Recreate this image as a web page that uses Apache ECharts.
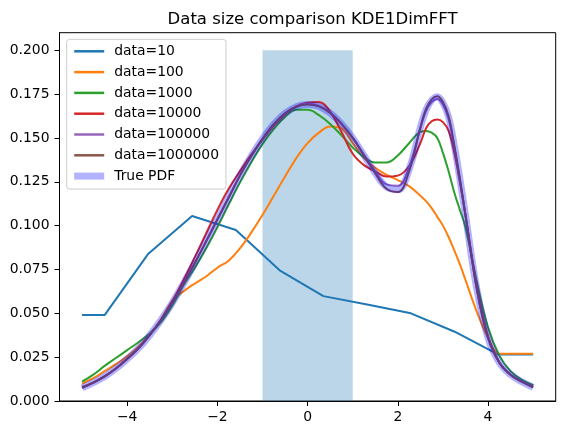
<!DOCTYPE html>
<html>
<head>
<meta charset="utf-8">
<script src="https://cdn.jsdelivr.net/npm/echarts@6/dist/echarts.min.js"></script>
<style>
  html, body { margin: 0; padding: 0; background: #fff; }
  #chart { width: 565px; height: 435px; }
</style>
</head>
<body>
<div id="chart"></div>
<script>
// x grid shared by the smooth curves (finer around the second bump)
var xs = [-5, -4.75, -4.5, -4.25, -4, -3.75, -3.5, -3.25, -3, -2.75, -2.5, -2.25, -2, -1.75, -1.5, -1.25, -1, -0.75, -0.5, -0.25,
  0, 0.25, 0.5, 0.75, 1, 1.25, 1.5, 1.75, 2, 2.25,
  2.5, 2.625, 2.75, 2.875, 3, 3.125, 3.25, 3.375, 3.5,
  3.75, 4, 4.25, 4.5, 4.75, 5];

// data=10 is a coarse polyline
var blueX = [-5, -4.5, -3.53, -2.56, -1.59, -0.62, 0.35, 1.32, 2.29, 3.26, 4.23, 5];
var blueY = [0.049, 0.049, 0.084, 0.1055, 0.0975, 0.0745, 0.0598, 0.055, 0.05, 0.0395, 0.0265, 0.0265];

var orangeY = [0.0100, 0.0130, 0.0170, 0.0210, 0.0255, 0.0310, 0.0380, 0.0465, 0.0570, 0.0625, 0.0670, 0.0710, 0.0760, 0.0800, 0.0870, 0.0960, 0.1060, 0.1170, 0.1280, 0.1385,
  0.1470, 0.1530, 0.1565, 0.1555, 0.1470, 0.1385, 0.1330, 0.1290, 0.1260, 0.1225,
  0.1170, 0.1140, 0.1100, 0.1050, 0.1000, 0.0935, 0.0860, 0.0780, 0.0690,
  0.0510, 0.0360, 0.0270, 0.0270, 0.0270, 0.0270];
var greenY = [0.0110, 0.0150, 0.0200, 0.0245, 0.0290, 0.0335, 0.0385, 0.0450, 0.0545, 0.0660, 0.0760, 0.0870, 0.0990, 0.1120, 0.1245, 0.1360, 0.1465, 0.1550, 0.1620, 0.1660,
  0.1660, 0.1630, 0.1580, 0.1515, 0.1445, 0.1390, 0.1360, 0.1360, 0.1400, 0.1470,
  0.1535, 0.1540, 0.1530, 0.1500, 0.1415, 0.1310, 0.1190, 0.1090, 0.0990,
  0.0680, 0.0420, 0.0260, 0.0170, 0.0120, 0.0090];
var redY = [0.0080, 0.0105, 0.0140, 0.0185, 0.0240, 0.0300, 0.0375, 0.0465, 0.0570, 0.0690, 0.0820, 0.0955, 0.1090, 0.1210, 0.1310, 0.1405, 0.1490, 0.1570, 0.1635, 0.1680,
  0.1700, 0.1705, 0.1650, 0.1535, 0.1410, 0.1345, 0.1310, 0.1280, 0.1285, 0.1340,
  0.1470, 0.1555, 0.1595, 0.1605, 0.1590, 0.1540, 0.1420, 0.1250, 0.1060,
  0.0660, 0.0370, 0.0220, 0.0150, 0.0110, 0.0080];
var purpleY = [0.0075, 0.0105, 0.0140, 0.0185, 0.0240, 0.0300, 0.0375, 0.0462, 0.0560, 0.0670, 0.0787, 0.0910, 0.1035, 0.1160, 0.1285, 0.1395, 0.1495, 0.1578, 0.1640, 0.1680,
  0.1695, 0.1683, 0.1645, 0.1582, 0.1502, 0.1405, 0.1310, 0.1235, 0.1228, 0.1335,
  0.1555, 0.1655, 0.1705, 0.1722, 0.1690, 0.1610, 0.1450, 0.1260, 0.1060,
  0.0640, 0.0360, 0.0220, 0.0150, 0.0110, 0.0078];
var brownY = [0.0075, 0.0105, 0.0140, 0.0185, 0.0240, 0.0300, 0.0375, 0.0462, 0.0560, 0.0670, 0.0787, 0.0910, 0.1035, 0.1160, 0.1285, 0.1395, 0.1495, 0.1578, 0.1640, 0.1678,
  0.1690, 0.1680, 0.1642, 0.1580, 0.1500, 0.1400, 0.1298, 0.1210, 0.1192, 0.1310,
  0.1560, 0.1665, 0.1720, 0.1738, 0.1705, 0.1625, 0.1460, 0.1270, 0.1060,
  0.0640, 0.0360, 0.0220, 0.0150, 0.0110, 0.0078];
var truePdfY = [0.0075, 0.0105, 0.0140, 0.0185, 0.0240, 0.0300, 0.0375, 0.0462, 0.0560, 0.0670, 0.0787, 0.0910, 0.1035, 0.1160, 0.1285, 0.1395, 0.1495, 0.1578, 0.1640, 0.1678,
  0.1690, 0.1680, 0.1642, 0.1580, 0.1500, 0.1400, 0.1300, 0.1220, 0.1205, 0.1320,
  0.1560, 0.1660, 0.1715, 0.1735, 0.1700, 0.1620, 0.1460, 0.1270, 0.1060,
  0.0640, 0.0360, 0.0220, 0.0150, 0.0110, 0.0078];

// uniform region shaded behind the curves
var boxX = [-1, 1];
var boxTop = 0.2;

var xTicks = [-4, -2, 0, 2, 4];
var yTicks = [0, 0.025, 0.05, 0.075, 0.1, 0.125, 0.15, 0.175, 0.2];

var names = ["data=10", "data=100", "data=1000", "data=10000", "data=100000", "data=1000000", "True PDF"];

function pairs(xv, yv) {
  return xv.map(function (x, i) { return [x, yv[i]]; });
}
function minus(v) {
  return v < 0 ? "\u2212" + Math.abs(v) : String(v);
}

var font = "DejaVu Sans";
var myChart = echarts.init(document.getElementById("chart"), null, { renderer: "canvas" });

var curve = function (name, color, yv) {
  return {
    name: name,
    type: "line",
    data: pairs(xs, yv),
    showSymbol: false,
    symbol: "none",
    smooth: 0.4,
    lineStyle: { color: color, width: 2 },
    itemStyle: { color: color },
  };
};

var legendData = names.map(function (n, i) {
  return i === 6 ? { name: n, lineStyle: { width: 7 } } : { name: n, lineStyle: { width: 2.5 } };
});

var option = {
  animation: false,
  title: {
    text: "Data size comparison KDE1DimFFT",
    left: 307.6,
    top: 6,
    textAlign: "center",
    textStyle: { fontFamily: font, fontSize: 16.5, fontWeight: "normal", color: "#000" },
  },
  legend: {
    orient: "vertical",
    left: 66.7,
    top: 39.3,
    padding: [5, 7, 6, 4],
    itemWidth: 30,
    itemHeight: 14,
    itemGap: 6.8,
    backgroundColor: "rgba(255,255,255,0.8)",
    borderColor: "#cccccc",
    borderWidth: 1,
    borderRadius: 3,
    itemStyle: { opacity: 0 },
    data: legendData,
    textStyle: { fontFamily: font, fontSize: 13.9, color: "#000", padding: [0, 0, 0, 5] },
  },
  grid: {
    left: 59.5,
    right: 9.3,
    top: 32.7,
    bottom: 34,
    show: true,
    borderColor: "#000",
    borderWidth: 1,
    backgroundColor: "transparent",
  },
  xAxis: {
    type: "value",
    min: -5.5,
    max: 5.5,
    splitLine: { show: false },
    axisLine: { show: true, onZero: false, lineStyle: { color: "#000", width: 1 } },
    axisTick: { show: true, length: 5, customValues: xTicks, lineStyle: { color: "#000" } },
    axisLabel: {
      customValues: xTicks,
      margin: 9,
      color: "#000",
      fontFamily: font,
      fontSize: 13.9,
      formatter: minus,
    },
  },
  yAxis: {
    type: "value",
    min: 0,
    max: 0.21,
    splitLine: { show: false },
    axisLine: { show: true, onZero: false, lineStyle: { color: "#000", width: 1 } },
    axisTick: { show: true, length: 5, customValues: yTicks, lineStyle: { color: "#000" } },
    axisLabel: {
      customValues: yTicks,
      margin: 10,
      color: "#000",
      fontFamily: font,
      fontSize: 13.9,
      formatter: function (v) { return v.toFixed(3); },
    },
  },
  series: [
    {
      name: "box",
      type: "line",
      data: pairs(boxX, [boxTop, boxTop]),
      showSymbol: false,
      symbol: "none",
      lineStyle: { width: 0, opacity: 0 },
      areaStyle: { color: "rgba(31,119,180,0.3)", opacity: 1, origin: "start" },
      silent: true,
    },
    {
      name: names[0],
      type: "line",
      data: pairs(blueX, blueY),
      showSymbol: false,
      symbol: "none",
      lineStyle: { color: "#1f77b4", width: 2 },
      itemStyle: { color: "#1f77b4" },
    },
    curve(names[1], "#ff7f0e", orangeY),
    curve(names[2], "#2ca02c", greenY),
    curve(names[3], "#d62728", redY),
    curve(names[4], "#9467bd", purpleY),
    curve(names[5], "#8c564b", brownY),
    {
      name: names[6],
      type: "line",
      data: pairs(xs, truePdfY),
      showSymbol: false,
      symbol: "none",
      smooth: 0.4,
      lineStyle: { color: "rgba(0,0,255,0.3)", width: 7 },
      itemStyle: { color: "rgba(0,0,255,0.3)" },
    },
  ],
};
option && myChart.setOption(option);
</script>
</body>
</html>
